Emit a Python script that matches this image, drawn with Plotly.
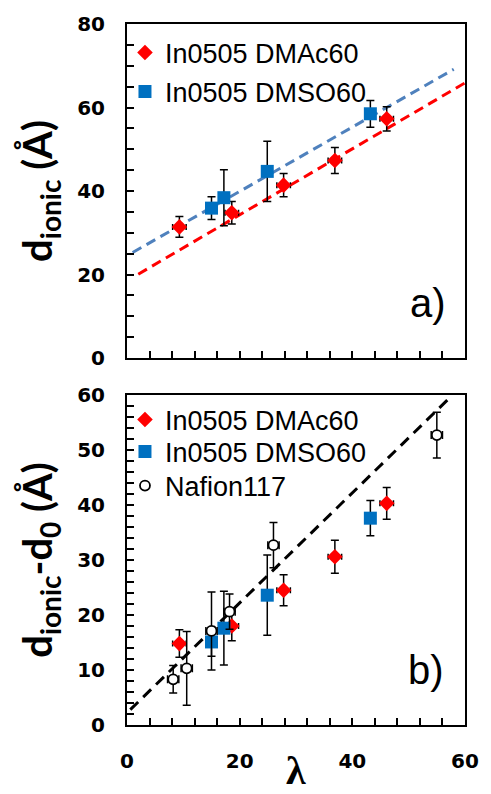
import plotly.graph_objects as go

# ---------------- data ----------------
# panel a) d_ionic vs lambda
lam_dmac = [9.3, 18.6, 27.8, 36.9, 46.1]
d_dmac = [31.4, 34.8, 41.4, 47.3, 57.3]
d_dmac_err = [2.5, 2.7, 2.8, 3.1, 2.9]

lam_dmso = [15.0, 17.2, 24.9, 43.2]
d_dmso = [35.9, 38.4, 44.7, 58.5]
d_dmso_err = [2.7, 6.7, 7.2, 3.2]

lam_x_err_dmac = [1.2, 1.2, 1.2, 1.2, 1.2]

# linear fits (slope, intercept, x-start, x-end)
fit_dmac = [0.79, 18.5, 2.0, 60.0]
fit_dmso = [0.77, 24.5, 1.0, 58.0]

# panel b) d_ionic - d0 vs lambda
dd_dmac = [14.8, 18.0, 24.5, 30.6, 40.3]
dd_dmac_err = [2.5, 2.7, 2.8, 3.0, 2.9]

dd_dmso = [15.1, 17.6, 23.6, 37.6]
dd_dmso_err = [2.6, 6.7, 7.3, 3.2]

lam_naf = [8.2, 10.6, 15.0, 18.2, 26.0, 55.0]
dd_naf = [8.3, 10.3, 17.1, 20.6, 32.7, 52.7]
dd_naf_err = [2.5, 6.7, 7.1, 3.2, 4.1, 4.15]
lam_naf_err = [1.0, 1.0, 1.0, 1.0, 1.0, 1.0]

fit_b = [1.0, 2.2, -1.7, 57.3]

x_ticks = [0, 20, 40, 60]

RED = "#FF0000"
BLUE = "#0070C0"
BLUE_LINE = "#4F81BD"

fig = go.Figure()

def line_pts(fit):
    s, b, x0, x1 = fit
    return [x0, x1], [s * x0 + b, s * x1 + b]

# ---- panel a ----
xs, ys = line_pts(fit_dmso)
fig.add_trace(go.Scatter(x=xs, y=ys, mode="lines", showlegend=False,
                         line=dict(color=BLUE_LINE, width=3, dash="10px,6px"),
                         xaxis="x", yaxis="y", hoverinfo="skip"))
xs, ys = line_pts(fit_dmac)
fig.add_trace(go.Scatter(x=xs, y=ys, mode="lines", showlegend=False,
                         line=dict(color=RED, width=3, dash="10px,6px"),
                         xaxis="x", yaxis="y", hoverinfo="skip"))

eb = dict(type="data", color="black", thickness=1.5, width=4)

fig.add_trace(go.Scatter(
    x=lam_dmac, y=d_dmac, mode="markers", name="In0505 DMAc60",
    marker=dict(symbol="diamond", size=12, color=RED),
    error_y=dict(array=d_dmac_err, **eb),
    error_x=dict(array=lam_x_err_dmac, type="data", color="black", thickness=1.5, width=3),
    xaxis="x", yaxis="y", legend="legend"))
fig.add_trace(go.Scatter(
    x=lam_dmso, y=d_dmso, mode="markers", name="In0505 DMSO60",
    marker=dict(symbol="square", size=13, color=BLUE),
    error_y=dict(array=d_dmso_err, **eb),
    xaxis="x", yaxis="y", legend="legend2"))

# ---- panel b ----
xs, ys = line_pts(fit_b)
fig.add_trace(go.Scatter(x=xs, y=ys, mode="lines", showlegend=False,
                         line=dict(color="black", width=3, dash="11px,7px"),
                         xaxis="x2", yaxis="y2", hoverinfo="skip"))
fig.add_trace(go.Scatter(
    x=lam_dmac, y=dd_dmac, mode="markers", name="In0505 DMAc60",
    marker=dict(symbol="diamond", size=12, color=RED),
    error_y=dict(array=dd_dmac_err, **eb),
    error_x=dict(array=lam_x_err_dmac, type="data", color="black", thickness=1.5, width=3),
    xaxis="x2", yaxis="y2", legend="legend3"))
fig.add_trace(go.Scatter(
    x=lam_dmso, y=dd_dmso, mode="markers", name="In0505 DMSO60",
    marker=dict(symbol="square", size=13, color=BLUE),
    error_y=dict(array=dd_dmso_err, **eb),
    xaxis="x2", yaxis="y2", legend="legend4"))
fig.add_trace(go.Scatter(
    x=lam_naf, y=dd_naf, mode="markers", name="Nafion117",
    marker=dict(symbol="circle", size=10, color="white", line=dict(color="black", width=1.8)),
    error_y=dict(array=dd_naf_err, **eb),
    error_x=dict(array=lam_naf_err, type="data", color="black", thickness=1.5, width=4),
    xaxis="x2", yaxis="y2", legend="legend5"))

tickfont = dict(family="DejaVu Sans", size=20, color="black", weight="bold")
minor_common = dict(ticks="inside", ticklen=7, tickcolor="black", tickwidth=1.5)
common = dict(showline=True, linecolor="black", linewidth=2, mirror=True,
              showgrid=False, zeroline=False, ticks="inside", ticklen=7,
              tickwidth=1.5, tickcolor="black", tickfont=tickfont,
              ticklabeloverflow="allow")

title_font = dict(family="Lato", size=40, color="black", weight="bold")
legend_font = dict(family="Liberation Sans", size=27, color="black")

def leg(py):
    # py: legend row centre as a fraction of the plotting height
    return dict(x=-0.006, y=py, xanchor="left", yanchor="middle",
                font=legend_font, bgcolor="rgba(0,0,0,0)")

fig.update_layout(
    width=491, height=794,
    margin=dict(l=127, r=13, t=24, b=69),
    paper_bgcolor="white", plot_bgcolor="white",
    showlegend=True,
    xaxis=dict(domain=[0, 1], range=[0, 60], anchor="y", showticklabels=False,
               tickvals=x_ticks, minor=dict(dtick=4, **minor_common), **common),
    yaxis=dict(domain=[0.5235, 1], range=[0, 80], anchor="x", dtick=20,
               minor=dict(dtick=5, **minor_common),
               ticklabelstandoff=16,
               title=dict(text="<b>d<sub>ionic</sub> (Å)</b>", font=title_font, standoff=12),
               **common),
    xaxis2=dict(domain=[0, 1], range=[0, 60], anchor="y2", tickvals=x_ticks,
                minor=dict(dtick=4, **minor_common),
                ticklabelstandoff=17, **common),
    yaxis2=dict(domain=[0, 0.4708], range=[0, 60], anchor="x2", dtick=10,
                minor=dict(dtick=2, **minor_common),
                ticklabelstandoff=16,
                title=dict(text="<b>d<sub>ionic</sub>-d<sub>0</sub> (Å)</b>", font=title_font, standoff=12),
                **common),
    legend=leg(0.9586),
    legend2=leg(0.9030),
    legend3=leg(0.4351),
    legend4=leg(0.3894),
    legend5=leg(0.3409),
    annotations=[
        dict(text="a)", x=53.5, y=13.2, xref="x", yref="y", showarrow=False,
             font=dict(family="Liberation Sans", size=40, color="black")),
        dict(text="b)", x=53.0, y=10.0, xref="x2", yref="y2", showarrow=False,
             font=dict(family="Liberation Sans", size=40, color="black")),
        dict(text="<b>λ</b>", x=0.5, y=-0.0984, xref="paper", yref="paper",
             showarrow=False, yanchor="bottom", borderpad=0,
             font=dict(family="Liberation Serif", size=40, color="black")),
    ],
)

fig.write_html("out.html")
